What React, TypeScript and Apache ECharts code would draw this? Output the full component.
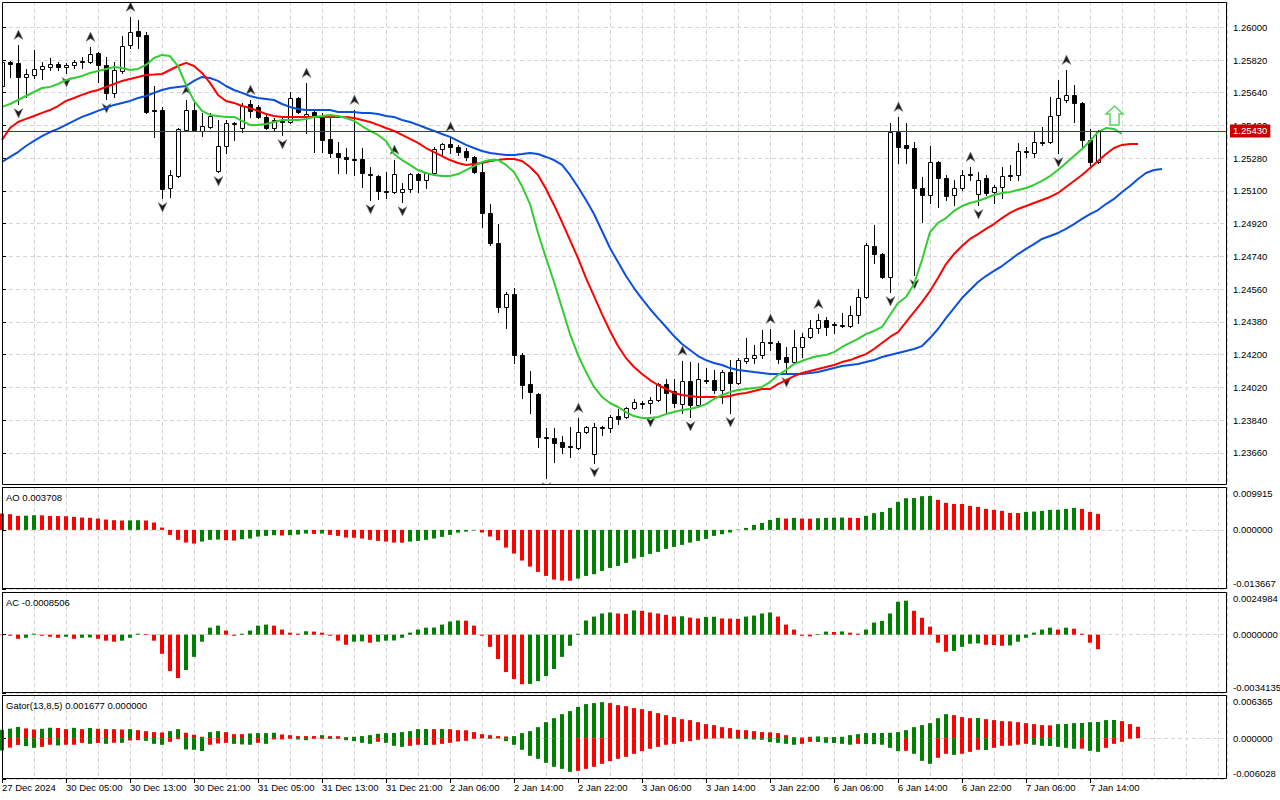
import React, { useEffect, useRef } from "react";
import * as echarts from "echarts";

// ---------- DATA ----------
const timeLabels = [
  "27 Dec 2024", "30 Dec 05:00", "30 Dec 13:00", "30 Dec 21:00", "31 Dec 05:00", "31 Dec 13:00",
  "31 Dec 21:00", "2 Jan 06:00", "2 Jan 14:00", "2 Jan 22:00", "3 Jan 06:00", "3 Jan 14:00",
  "3 Jan 22:00", "6 Jan 06:00", "6 Jan 14:00", "6 Jan 22:00", "7 Jan 06:00", "7 Jan 14:00",
];
const priceTicks = [1.2366, 1.2384, 1.2402, 1.242, 1.2438, 1.2456, 1.2474, 1.2492, 1.251, 1.2528, 1.2546, 1.2564, 1.2582, 1.26];
const priceMin = 1.23483;
const priceMax = 1.26139;
const lastPrice = 1.2543;

const open = [
  1.25677,1.25809,1.25804,1.25727,1.25738,1.25771,1.25782,1.25798,1.25782,1.25793,
  1.25812,1.25809,1.25859,1.25793,1.25639,1.25760,1.25903,1.25980,1.25958,1.25545,
  1.25545,1.25116,1.25182,1.25435,1.25545,1.25430,1.25452,1.25210,1.25347,1.25468,
  1.25446,1.25578,1.25562,1.25507,1.25446,1.25485,1.25479,1.25611,1.25512,1.25534,
  1.25507,1.25386,1.25309,1.25287,1.25276,1.25276,1.25193,1.25182,1.25100,1.25094,
  1.25094,1.25111,1.25193,1.25160,1.25199,1.25331,1.25358,1.25342,1.25320,1.25287,
  1.25204,1.24979,1.24814,1.24462,1.24533,1.24198,1.24038,1.23983,1.23747,1.23741,
  1.23719,1.23697,1.23686,1.23774,1.23653,1.23802,1.23796,1.23862,1.23857,1.23906,
  1.23934,1.23934,1.23950,1.24038,1.24000,1.23928,1.24055,1.23923,1.24060,1.24060,
  1.24005,1.24104,1.24044,1.24165,1.24181,1.24198,1.24269,1.24264,1.24187,1.24159,
  1.24242,1.24297,1.24346,1.24390,1.24368,1.24363,1.24357,1.24418,1.24517,1.24797,
  1.24753,1.24627,1.25424,1.25353,1.25336,1.25116,1.25078,1.25259,1.25171,1.25078,
  1.25116,1.25193,1.25083,1.25171,1.25094,1.25122,1.25188,1.25188,1.25320,1.25309,
  1.25369,1.25369,1.25518,1.25600,1.25628,1.25584,1.25380,1.25259,
];
const high = [
  1.25831,1.25815,1.25903,1.25771,1.25875,1.25809,1.25831,1.25809,1.25804,1.25820,
  1.25837,1.25892,1.25864,1.25837,1.25809,1.25952,1.26057,1.26040,1.25974,1.25677,
  1.25562,1.25215,1.25446,1.25600,1.25584,1.25529,1.25529,1.25490,1.25490,1.25479,
  1.25584,1.25600,1.25573,1.25529,1.25501,1.25507,1.25644,1.25617,1.25694,1.25545,
  1.25529,1.25518,1.25369,1.25336,1.25545,1.25336,1.25232,1.25188,1.25204,1.25270,
  1.25144,1.25199,1.25199,1.25204,1.25342,1.25364,1.25397,1.25353,1.25336,1.25292,
  1.25254,1.25028,1.24918,1.24544,1.24566,1.24209,1.24110,1.23989,1.23796,1.23796,
  1.23752,1.23802,1.23851,1.23807,1.23824,1.23807,1.23868,1.23901,1.23912,1.23956,
  1.23945,1.23967,1.24044,1.24066,1.24066,1.24165,1.24159,1.24154,1.24126,1.24115,
  1.24115,1.24170,1.24181,1.24291,1.24253,1.24335,1.24341,1.24275,1.24242,1.24335,
  1.24319,1.24390,1.24423,1.24407,1.24379,1.24429,1.24467,1.24561,1.24814,1.24913,
  1.24759,1.25474,1.25507,1.25474,1.25369,1.25177,1.25347,1.25265,1.25188,1.25160,
  1.25215,1.25232,1.25204,1.25188,1.25133,1.25232,1.25243,1.25364,1.25342,1.25424,
  1.25452,1.25617,1.25710,1.25765,1.25683,1.25589,1.25441,1.25435,
];
const low = [
  1.25666,1.25727,1.25578,1.25617,1.25721,1.25716,1.25765,1.25765,1.25749,1.25776,
  1.25776,1.25804,1.25699,1.25606,1.25617,1.25749,1.25886,1.25886,1.25529,1.25397,
  1.25061,1.25067,1.25177,1.25432,1.25430,1.25402,1.25446,1.25204,1.25309,1.25380,
  1.25424,1.25507,1.25501,1.25443,1.25435,1.25408,1.25474,1.25529,1.25419,1.25314,
  1.25314,1.25287,1.25199,1.25199,1.25188,1.25122,1.25050,1.25056,1.25061,1.25089,
  1.25039,1.25094,1.25094,1.25116,1.25188,1.25298,1.25309,1.25298,1.25270,1.25199,
  1.24902,1.24803,1.24434,1.24346,1.24154,1.23961,1.23879,1.23692,1.23521,1.23609,
  1.23659,1.23637,1.23681,1.23769,1.23604,1.23758,1.23774,1.23818,1.23851,1.23901,
  1.23906,1.23879,1.23945,1.23884,1.23912,1.23879,1.23857,1.23917,1.24044,1.23989,
  1.23934,1.23879,1.24038,1.24154,1.24154,1.24181,1.24225,1.24154,1.24099,1.24154,
  1.24187,1.24291,1.24319,1.24308,1.24319,1.24352,1.24352,1.24374,1.24511,1.24704,
  1.24621,1.24544,1.25254,1.25254,1.24638,1.24929,1.25034,1.25012,1.25050,1.25023,
  1.25105,1.25160,1.25023,1.25078,1.25034,1.25061,1.25160,1.25160,1.25287,1.25287,
  1.25353,1.25364,1.25309,1.25589,1.25479,1.25336,1.25226,1.25254,
];
const close = [
  1.25809,1.25798,1.25727,1.25743,1.25771,1.25787,1.25798,1.25782,1.25793,1.25809,
  1.25809,1.25853,1.25793,1.25639,1.25765,1.25897,1.25974,1.25952,1.25534,1.25540,
  1.25111,1.25188,1.25441,1.25545,1.25435,1.25457,1.25512,1.25347,1.25474,1.25471,
  1.25567,1.25540,1.25507,1.25446,1.25490,1.25479,1.25611,1.25534,1.25523,1.25507,
  1.25380,1.25309,1.25287,1.25276,1.25270,1.25199,1.25188,1.25100,1.25094,1.25193,
  1.25111,1.25193,1.25160,1.25199,1.25331,1.25358,1.25342,1.25314,1.25287,1.25204,
  1.24979,1.24814,1.24462,1.24533,1.24198,1.24033,1.23994,1.23747,1.23741,1.23714,
  1.23692,1.23692,1.23774,1.23802,1.23802,1.23799,1.23857,1.23846,1.23906,1.23939,
  1.23936,1.23950,1.24038,1.23989,1.23934,1.24055,1.23923,1.24066,1.24057,1.24005,
  1.24104,1.24044,1.24170,1.24181,1.24198,1.24269,1.24266,1.24176,1.24159,1.24242,
  1.24297,1.24346,1.24390,1.24352,1.24365,1.24360,1.24418,1.24517,1.24803,1.24753,
  1.24627,1.25424,1.25342,1.25336,1.25116,1.25078,1.25259,1.25171,1.25072,1.25116,
  1.25188,1.25190,1.25160,1.25089,1.25122,1.25182,1.25185,1.25320,1.25317,1.25369,
  1.25366,1.25512,1.25611,1.25628,1.25584,1.25380,1.25259,1.25430,
];

const jaw = [
  1.25259,1.25287,1.25314,1.25347,1.25375,1.25402,1.25424,1.25441,1.25463,1.25485,
  1.25507,1.25523,1.25540,1.25556,1.25573,1.25584,1.25595,1.25611,1.25622,1.25639,
  1.25655,1.25666,1.25672,1.25677,1.25705,1.25727,1.25721,1.25705,1.25677,1.25655,
  1.25639,1.25622,1.25611,1.25606,1.25600,1.25578,1.25562,1.25551,1.25545,1.25545,
  1.25545,1.25545,1.25534,1.25534,1.25534,1.25529,1.25529,1.25523,1.25512,1.25507,
  1.25490,1.25479,1.25463,1.25446,1.25430,1.25413,1.25397,1.25375,1.25353,1.25336,
  1.25320,1.25309,1.25303,1.25298,1.25298,1.25303,1.25309,1.25303,1.25287,1.25270,
  1.25243,1.25188,1.25122,1.25050,1.24973,1.24880,1.24786,1.24709,1.24632,1.24566,
  1.24506,1.24451,1.24401,1.24352,1.24302,1.24258,1.24225,1.24192,1.24170,1.24154,
  1.24143,1.24126,1.24115,1.24110,1.24104,1.24099,1.24093,1.24093,1.24093,1.24093,
  1.24093,1.24099,1.24104,1.24115,1.24126,1.24137,1.24143,1.24148,1.24159,1.24170,
  1.24187,1.24198,1.24209,1.24220,1.24231,1.24247,1.24291,1.24341,1.24401,1.24456,
  1.24511,1.24555,1.24599,1.24632,1.24660,1.24687,1.24720,1.24753,1.24781,1.24808,
  1.24836,1.24852,1.24869,1.24891,1.24918,1.24946,1.24973,1.24995,1.25028,1.25056,
  1.25094,1.25127,1.25166,1.25199,1.25215,1.25221,
];
const teeth = [
  1.25380,1.25446,1.25479,1.25496,1.25512,1.25529,1.25545,1.25567,1.25595,1.25611,
  1.25628,1.25644,1.25655,1.25672,1.25688,1.25705,1.25716,1.25727,1.25738,1.25740,
  1.25743,1.25765,1.25787,1.25804,1.25787,1.25749,1.25694,1.25628,1.25595,1.25584,
  1.25567,1.25556,1.25540,1.25523,1.25512,1.25507,1.25507,1.25507,1.25507,1.25507,
  1.25507,1.25507,1.25507,1.25507,1.25501,1.25490,1.25479,1.25463,1.25446,1.25430,
  1.25408,1.25386,1.25364,1.25336,1.25314,1.25292,1.25270,1.25254,1.25243,1.25248,
  1.25254,1.25265,1.25270,1.25276,1.25276,1.25265,1.25232,1.25188,1.25111,1.25023,
  1.24929,1.24830,1.24731,1.24621,1.24522,1.24423,1.24330,1.24247,1.24181,1.24132,
  1.24093,1.24060,1.24033,1.24011,1.23989,1.23978,1.23972,1.23967,1.23967,1.23967,
  1.23967,1.23972,1.23983,1.23989,1.24000,1.24011,1.24011,1.24038,1.24060,1.24082,
  1.24099,1.24110,1.24121,1.24132,1.24143,1.24159,1.24170,1.24187,1.24203,1.24231,
  1.24264,1.24297,1.24324,1.24379,1.24434,1.24489,1.24550,1.24621,1.24698,1.24753,
  1.24797,1.24836,1.24863,1.24891,1.24918,1.24951,1.24979,1.25001,1.25017,1.25034,
  1.25050,1.25067,1.25089,1.25122,1.25155,1.25188,1.25226,1.25265,1.25303,1.25336,
  1.25353,1.25358,1.25358,
];
const lips = [
  1.25562,1.25578,1.25600,1.25622,1.25644,1.25666,1.25672,1.25688,1.25710,1.25721,
  1.25732,1.25749,1.25760,1.25771,1.25782,1.25776,1.25765,1.25771,1.25793,1.25831,
  1.25848,1.25842,1.25787,1.25683,1.25595,1.25540,1.25518,1.25512,1.25507,1.25507,
  1.25485,1.25463,1.25463,1.25468,1.25479,1.25490,1.25490,1.25490,1.25496,1.25507,
  1.25512,1.25518,1.25512,1.25501,1.25485,1.25457,1.25430,1.25408,1.25375,1.25303,
  1.25270,1.25243,1.25215,1.25199,1.25188,1.25182,1.25182,1.25193,1.25215,1.25237,
  1.25259,1.25270,1.25270,1.25243,1.25204,1.25127,1.25028,1.24869,1.24731,1.24599,
  1.24456,1.24313,1.24198,1.24104,1.24022,1.23967,1.23934,1.23912,1.23884,1.23862,
  1.23851,1.23851,1.23857,1.23873,1.23884,1.23895,1.23901,1.23912,1.23928,1.23956,
  1.23978,1.23994,1.24005,1.24011,1.24016,1.24022,1.24049,1.24088,1.24115,1.24148,
  1.24165,1.24181,1.24192,1.24198,1.24214,1.24242,1.24264,1.24286,1.24313,1.24330,
  1.24352,1.24418,1.24484,1.24517,1.24588,1.24720,1.24874,1.24924,1.24951,1.24990,
  1.25017,1.25034,1.25045,1.25061,1.25078,1.25089,1.25094,1.25105,1.25116,1.25133,
  1.25155,1.25182,1.25215,1.25254,1.25292,1.25331,1.25375,1.25424,1.25446,1.25441,
  1.25413,
];

const fractalUpBars = [2, 11, 16, 23, 31, 38, 44, 49, 56, 72, 85, 96, 102, 112, 121, 133];
const fractalDownBars = [2, 8, 13, 20, 27, 35, 46, 50, 68, 74, 81, 86, 91, 98, 111, 114, 122, 132];
const signalBar = 139;
const signalPrice = 1.25515;

const ao = [
  0.00378,0.00363,0.00324,0.00328,0.00339,0.00336,0.00324,0.00320,0.00316,0.00301,
  0.00285,0.00278,0.00262,0.00239,0.00224,0.00216,0.00220,0.00224,0.00216,0.00170,
  0.00054,-0.00116,-0.00231,-0.00293,-0.00316,-0.00270,-0.00231,-0.00224,-0.00239,-0.00247,
  -0.00216,-0.00200,-0.00154,-0.00139,-0.00123,-0.00131,-0.00123,-0.00108,-0.00085,-0.00093,
  -0.00085,-0.00116,-0.00139,-0.00177,-0.00181,-0.00200,-0.00231,-0.00254,-0.00270,-0.00293,
  -0.00297,-0.00270,-0.00254,-0.00231,-0.00200,-0.00162,-0.00116,-0.00062,-0.00039,-0.00015,
  -0.00060,-0.00154,-0.00239,-0.00409,-0.00547,-0.00709,-0.00848,-0.00971,-0.01064,-0.01149,
  -0.01172,-0.01175,-0.01126,-0.01064,-0.01025,-0.00948,-0.00879,-0.00833,-0.00763,-0.00663,
  -0.00625,-0.00555,-0.00509,-0.00439,-0.00393,-0.00347,-0.00293,-0.00254,-0.00208,-0.00139,
  -0.00100,-0.00060,0.00008,0.00046,0.00116,0.00162,0.00231,0.00278,0.00262,0.00278,
  0.00262,0.00258,0.00270,0.00278,0.00282,0.00285,0.00280,0.00275,0.00324,0.00386,
  0.00416,0.00509,0.00648,0.00732,0.00736,0.00779,0.00786,0.00694,0.00625,0.00601,
  0.00598,0.00555,0.00532,0.00486,0.00463,0.00439,0.00393,0.00389,0.00416,0.00424,
  0.00439,0.00463,0.00466,0.00486,0.00509,0.00486,0.00416,0.003708,
];
const aoColors =
  "RRRGGRRRRR" + "RRRRRRGGRR" + "RRRRRGGGRR" + "GGGGGRGGGR" + "GRRRRRRRRR" + "RGGGGGGGGG" +
  "RRRRRRRRRR" + "RRGGGGGGGG" + "GGGGGGGGGG" + "GGGGGGGGRG" + "RRGGGGRRGG" + "GGGGGGGRRR" +
  "RRRRRRRRGG" + "GGGGGRRR";

const ac = [
  -0.00003,-0.00006,-0.00024,-0.00018,0.00006,-0.00006,-0.00012,-0.00018,-0.00012,-0.00024,
  -0.00018,-0.00016,-0.00024,-0.00035,-0.00041,-0.00035,-0.00018,0.00006,0.00004,-0.00035,
  -0.00112,-0.00213,-0.00254,-0.00207,-0.00130,-0.00041,0.00041,0.00053,0.00024,-0.00006,
  0.00006,0.00024,0.00053,0.00059,0.00053,0.00030,0.00012,0.00006,0.00020,0.00018,
  0.00012,-0.00006,-0.00035,-0.00059,-0.00041,-0.00039,-0.00047,-0.00041,-0.00035,-0.00034,
  -0.00018,0.00012,0.00030,0.00041,0.00042,0.00059,0.00077,0.00083,0.00082,0.00053,
  -0.00006,-0.00071,-0.00142,-0.00219,-0.00260,-0.00290,-0.00288,-0.00272,-0.00242,-0.00201,
  -0.00130,-0.00065,0.00006,0.00083,0.00106,0.00124,0.00130,0.00124,0.00122,0.00142,
  0.00140,0.00130,0.00124,0.00116,0.00106,0.00108,0.00100,0.00095,0.00104,0.00105,
  0.00095,0.00094,0.00093,0.00106,0.00112,0.00124,0.00130,0.00106,0.00059,0.00030,
  -0.00006,-0.00010,0.00004,0.00018,0.00016,0.00019,0.00012,0.00006,0.00030,0.00071,
  0.00081,0.00124,0.00193,0.00199,0.00140,0.00099,0.00047,-0.00047,-0.00100,-0.00095,
  -0.00071,-0.00053,-0.00051,-0.00059,-0.00061,-0.00065,-0.00063,-0.00041,-0.00018,0.00012,
  0.00030,0.00041,0.00030,0.00041,0.00035,0.00006,-0.00047,-0.0008506,
];
const acColors =
  "RRRGGRRRGR" + "GGRRRGGGRR" + "RRRGGGGGRR" + "GGGGRRRRGR" + "RRRRGGRGGG" + "GGGGGGGGRR" +
  "RRRRRRGGGG" + "GGGGGGGRRG" + "RRRRRGRRGG" + "RRRGGGGRRR" + "RRGGRGRRGG" + "GGGGRRRRRG" +
  "GGGRRRGGGG" + "GGRGRRRR";

const gatorUpper = [
  0.00123,0.00140,0.00165,0.00143,0.00128,0.00138,0.00153,0.00150,0.00133,0.00152,
  0.00133,0.00150,0.00138,0.00133,0.00132,0.00128,0.00133,0.00118,0.00103,0.00089,
  0.00084,0.00103,0.00133,0.00079,0.00050,0.00020,0.00089,0.00103,0.00089,0.00059,
  0.00059,0.00069,0.00074,0.00074,0.00079,0.00054,0.00044,0.00030,0.00030,0.00030,
  0.00044,0.00030,0.00029,0.00015,0.00020,0.00030,0.00044,0.00064,0.00074,0.00076,
  0.00089,0.00103,0.00133,0.00135,0.00133,0.00136,0.00133,0.00118,0.00117,0.00089,
  0.00059,0.00044,0.00030,0.00025,0.00030,0.00074,0.00103,0.00162,0.00236,0.00295,
  0.00354,0.00399,0.00462,0.00502,0.00517,0.00531,0.00517,0.00487,0.00472,0.00443,
  0.00428,0.00399,0.00369,0.00339,0.00310,0.00280,0.00266,0.00236,0.00207,0.00192,
  0.00162,0.00148,0.00123,0.00118,0.00103,0.00089,0.00086,0.00074,0.00044,0.00015,
  0.00010,0.00020,0.00025,0.00015,0.00017,0.00020,0.00044,0.00059,0.00074,0.00075,
  0.00076,0.00079,0.00089,0.00118,0.00162,0.00192,0.00221,0.00295,0.00354,0.00339,
  0.00310,0.00295,0.00298,0.00280,0.00266,0.00251,0.00248,0.00236,0.00221,0.00207,
  0.00192,0.00189,0.00207,0.00209,0.00221,0.00224,0.00236,0.00239,0.00266,0.00268,
  0.00251,0.00207,0.001677,
];
const gatorLower = [
  -0.00182,-0.00140,-0.00100,-0.00118,-0.00143,-0.00128,-0.00098,-0.00108,-0.00098,-0.00097,
  -0.00070,-0.00084,-0.00070,-0.00084,-0.00068,-0.00069,-0.00034,-0.00030,-0.00040,-0.00084,
  -0.00098,-0.00054,-0.00015,-0.00167,-0.00172,-0.00190,-0.00098,-0.00079,-0.00069,-0.00084,
  -0.00093,-0.00098,-0.00069,-0.00084,-0.00020,-0.00020,-0.00010,-0.00020,-0.00030,-0.00010,
  -0.00010,-0.00012,-0.00010,-0.00030,-0.00044,-0.00069,-0.00084,-0.00054,-0.00069,-0.00113,
  -0.00128,-0.00113,-0.00098,-0.00101,-0.00098,-0.00084,-0.00069,-0.00049,-0.00039,-0.00010,
  -0.00003,-0.00010,-0.00005,-0.00044,-0.00098,-0.00172,-0.00261,-0.00305,-0.00364,-0.00423,
  -0.00453,-0.00497,-0.00482,-0.00453,-0.00423,-0.00379,-0.00339,-0.00305,-0.00276,-0.00231,
  -0.00192,-0.00157,-0.00128,-0.00098,-0.00084,-0.00054,-0.00044,-0.00025,-0.00010,-0.00005,
  -0.00002,-0.00005,-0.00010,-0.00015,-0.00020,-0.00025,-0.00059,-0.00069,-0.00084,-0.00098,
  -0.00084,-0.00054,-0.00057,-0.00069,-0.00071,-0.00084,-0.00098,-0.00084,-0.00086,-0.00089,
  -0.00098,-0.00143,-0.00192,-0.00187,-0.00231,-0.00335,-0.00379,-0.00290,-0.00231,-0.00246,
  -0.00231,-0.00202,-0.00172,-0.00175,-0.00143,-0.00113,-0.00111,-0.00098,-0.00084,-0.00098,
  -0.00113,-0.00116,-0.00128,-0.00143,-0.00157,-0.00155,-0.00187,-0.00202,-0.00143,-0.00084,
  -0.00054,-0.00010,
];

const aoRange = { min: -0.013667, max: 0.009915, labels: ["-0.013667", "0.000000", "0.009915"] };
const acRange = { min: -0.0034135, max: 0.0024984, labels: ["-0.0034135", "0.0000000", "0.0024984"] };
const gatorRange = { min: -0.006028, max: 0.006365, labels: ["-0.006028", "0.000000", "0.006365"] };
const titles = ["AO 0.003708", "AC -0.0008506", "Gator(13,8,5) 0.001677 0.000000"];

// ---------- STYLE / LAYOUT ----------
const FONT = '"Liberation Sans", Arial, sans-serif';
const FS = 9.5;
const GREEN = "#008000";
const RED = "#ff0000";
const GRID_LEFT = 2;
const GRID_WIDTH = 1225;
const X_MAX = GRID_WIDTH / 8;
const panels = [
  { top: 2, height: 483 },
  { top: 487, height: 102 },
  { top: 592, height: 101 },
  { top: 695, height: 84 },
];
const dashed = { color: "#d6d6d6", type: [4, 3] as any, width: 1 };

function gatorColors(vals: number[]) {
  const out: string[] = [];
  vals.forEach((v, i) => {
    if (i === 0) out.push(GREEN);
    else if (Math.abs(v) > Math.abs(vals[i - 1])) out.push(GREEN);
    else if (Math.abs(v) < Math.abs(vals[i - 1])) out.push(RED);
    else out.push(out[i - 1]);
  });
  return out;
}

function baseX(gridIndex: number) {
  return {
    type: "value", gridIndex, min: 0, max: X_MAX, interval: 4,
    axisLine: { show: false }, axisTick: { show: false }, axisLabel: { show: false },
    splitLine: { show: true, lineStyle: dashed },
  };
}

function subY(gridIndex: number, r: { min: number; max: number; labels: string[] }, h: number) {
  const px = (r.max - r.min) / h;
  return {
    type: "value", gridIndex, position: "right", min: r.min, max: r.max,
    axisLine: { show: false },
    axisTick: { show: true, customValues: [r.min, 0, r.max], length: 4, lineStyle: { color: "#000" } },
    axisLabel: {
      customValues: [r.min + 6 * px, 0, r.max - 6 * px],
      formatter: (v: number) => (v > px ? r.labels[2] : v < -px ? r.labels[0] : r.labels[1]),
      color: "#000", fontSize: FS, fontFamily: FONT, margin: 6,
    },
    splitLine: { show: true, lineStyle: dashed },
  };
}

function buildOption() {
  const candleData = open.map((o, i) => [i, o, close[i], low[i], high[i]]);
  const fractalData = [
    ...fractalUpBars.map((k) => [k, high[k], 1]),
    ...fractalDownBars.map((k) => [k, low[k], -1]),
  ];
  const gU = gatorColors(gatorUpper);
  const gL = gatorColors(gatorLower);
  const labelTickVals = timeLabels.map((_, i) => i * 8);

  return {
    animation: false,
    backgroundColor: "#ffffff",
    grid: panels.map((p) => ({
      left: GRID_LEFT, top: p.top, width: GRID_WIDTH, height: p.height,
      show: false, containLabel: false, outerBoundsMode: "none",
    })),
    xAxis: [
      baseX(0), baseX(1), baseX(2), baseX(3),
      {
        type: "value", gridIndex: 3, min: 0, max: X_MAX, position: "bottom",
        axisLine: { show: false }, splitLine: { show: false },
        axisTick: { show: true, customValues: labelTickVals, length: 4, lineStyle: { color: "#000" } },
        axisLabel: {
          customValues: labelTickVals,
          formatter: (v: number) => timeLabels[Math.round(v / 8)] ?? "",
          align: "left", margin: 3, color: "#000", fontSize: FS, fontFamily: FONT,
        },
      },
    ],
    yAxis: [
      {
        type: "value", gridIndex: 0, position: "right", min: priceMin, max: priceMax,
        axisLine: { show: false },
        axisTick: { show: true, customValues: priceTicks, length: 4, lineStyle: { color: "#000" } },
        axisLabel: {
          customValues: priceTicks, formatter: (v: number) => v.toFixed(5),
          color: "#000", fontSize: FS, fontFamily: FONT, margin: 6,
        },
        splitLine: { show: true, lineStyle: dashed },
      },
      subY(1, aoRange, panels[1].height),
      subY(2, acRange, panels[2].height),
      subY(3, gatorRange, panels[3].height),
    ],
    graphic: [
      ...panels.map((p) => ({
        type: "rect", z: 100, silent: true,
        shape: { x: GRID_LEFT + 0.5, y: p.top + 0.5, width: GRID_WIDTH - 1, height: p.height - 1 },
        style: { fill: "none", stroke: "#000", lineWidth: 1 },
      })),
      ...titles.map((t, i) => ({
        type: "text", z: 100, silent: true, x: 6, y: panels[i + 1].top + 10,
        style: { text: t, fill: "#000", font: `${FS}px ${FONT}`, align: "left", verticalAlign: "middle" },
      })),
    ],
    series: [
      {
        type: "custom", name: "candles", xAxisIndex: 0, yAxisIndex: 0, clip: true, silent: true,
        data: candleData, encode: { x: 0, y: [1, 2, 3, 4] },
        renderItem: (params: any, api: any) => {
          const k = api.value(0);
          const o = api.value(1), c = api.value(2), l = api.value(3), h = api.value(4);
          const pO = api.coord([k, o]);
          const pC = api.coord([k, c]);
          const pL = api.coord([k, l]);
          const pH = api.coord([k, h]);
          const x = Math.round(pO[0]) + 0.5;
          const top = Math.round(Math.min(pO[1], pC[1])) + 0.5;
          const bot = Math.round(Math.max(pO[1], pC[1])) + 0.5;
          const bull = c >= o;
          return {
            type: "group",
            children: [
              { type: "line", shape: { x1: x, y1: Math.round(pH[1]), x2: x, y2: Math.round(pL[1]) + 1 }, style: { stroke: "#000", lineWidth: 1 } },
              { type: "rect", shape: { x: x - 2, y: top, width: 4, height: Math.max(bot - top, 1) }, style: { fill: bull ? "#fff" : "#000", stroke: "#000", lineWidth: 1 } },
            ],
          };
        },
      },
      {
        type: "line", name: "jaw", xAxisIndex: 0, yAxisIndex: 0, silent: true,
        data: jaw.map((v, i) => [i, v]), showSymbol: false, symbol: "none",
        lineStyle: { color: "#0a50dc", width: 2 },
        markLine: {
          silent: true, symbol: ["none", "none"], animation: false, precision: 5,
          lineStyle: { color: "#c00000", width: 1, type: "solid" },
          label: {
            show: true, position: "end", formatter: lastPrice.toFixed(5), color: "#fff",
            backgroundColor: "#c80000", padding: [2, 3, 1, 3], fontSize: FS, fontFamily: FONT, distance: 3,
          },
          emphasis: { disabled: true },
          data: [{ yAxis: lastPrice }],
        },
      },
      {
        type: "line", name: "teeth", xAxisIndex: 0, yAxisIndex: 0, silent: true,
        data: teeth.map((v, i) => [i, v]), showSymbol: false, symbol: "none",
        lineStyle: { color: "#ff0000", width: 2 },
      },
      {
        type: "line", name: "lips", xAxisIndex: 0, yAxisIndex: 0, silent: true,
        data: lips.map((v, i) => [i, v]), showSymbol: false, symbol: "none",
        lineStyle: { color: "#32cd32", width: 2 },
      },
      {
        type: "custom", name: "fractals", xAxisIndex: 0, yAxisIndex: 0, clip: true, silent: true,
        data: fractalData, encode: { x: 0, y: 1 },
        renderItem: (params: any, api: any) => {
          const p = api.coord([api.value(0), api.value(1)]);
          const dir = api.value(2);
          const cx = Math.round(p[0]) + 0.5;
          if (dir > 0) {
            const cy = p[1] - 10;
            return {
              type: "polygon",
              shape: { points: [[cx, cy - 5], [cx + 4.5, cy + 4.5], [cx, cy + 1.5], [cx - 4.5, cy + 4.5]] },
              style: { fill: "#1c1c1c", stroke: "#8a8a8a", lineWidth: 0.6 },
            };
          }
          const cy = p[1] + 9;
          return {
            type: "polygon",
            shape: { points: [[cx, cy + 5], [cx + 4.5, cy - 4.5], [cx, cy - 1.5], [cx - 4.5, cy - 4.5]] },
            style: { fill: "#1c1c1c", stroke: "#8a8a8a", lineWidth: 0.6 },
          };
        },
      },
      {
        type: "custom", name: "signal", xAxisIndex: 0, yAxisIndex: 0, clip: true, silent: true,
        data: [[signalBar, signalPrice]], encode: { x: 0, y: 1 },
        renderItem: (params: any, api: any) => {
          const p = api.coord([api.value(0), api.value(1)]);
          const cx = Math.round(p[0]) + 0.5;
          const cy = Math.round(p[1]) + 0.5;
          const pts = [[0, -9.5], [8.5, -1.5], [4.5, -1.5], [4.5, 9.5], [-4.5, 9.5], [-4.5, -1.5], [-8.5, -1.5]];
          return {
            type: "polygon",
            shape: { points: pts.map(([dx, dy]) => [cx + dx, cy + dy]) },
            style: { fill: "#ffffff", stroke: "#5fd35f", lineWidth: 1.5 },
          };
        },
      },
      {
        type: "bar", name: "AO", xAxisIndex: 1, yAxisIndex: 1, barWidth: 4, silent: true,
        data: ao.map((v, i) => ({ value: [i, v], itemStyle: { color: aoColors[i] === "G" ? GREEN : RED } })),
      },
      {
        type: "bar", name: "AC", xAxisIndex: 2, yAxisIndex: 2, barWidth: 4, silent: true,
        data: ac.map((v, i) => ({ value: [i, v], itemStyle: { color: acColors[i] === "G" ? GREEN : RED } })),
      },
      {
        type: "bar", name: "GatorUp", xAxisIndex: 3, yAxisIndex: 3, barWidth: 4, barGap: "-100%", silent: true,
        data: gatorUpper.map((v, i) => ({ value: [i, v], itemStyle: { color: gU[i] } })),
      },
      {
        type: "bar", name: "GatorDown", xAxisIndex: 3, yAxisIndex: 3, barWidth: 4, barGap: "-100%", silent: true,
        data: gatorLower.map((v, i) => ({ value: [i, v], itemStyle: { color: gL[i] } })),
      },
    ],
  };
}

export default function App() {
  const ref = useRef<HTMLDivElement>(null);
  useEffect(() => {
    if (!ref.current) return;
    const chart = echarts.init(ref.current, null, { renderer: "svg" });
    chart.setOption(buildOption() as any);
    return () => chart.dispose();
  }, []);
  return (
    <div
      ref={ref}
      style={{ position: "fixed", left: 0, top: 0, width: 1280, height: 800, background: "#fff" }}
    />
  );
}
